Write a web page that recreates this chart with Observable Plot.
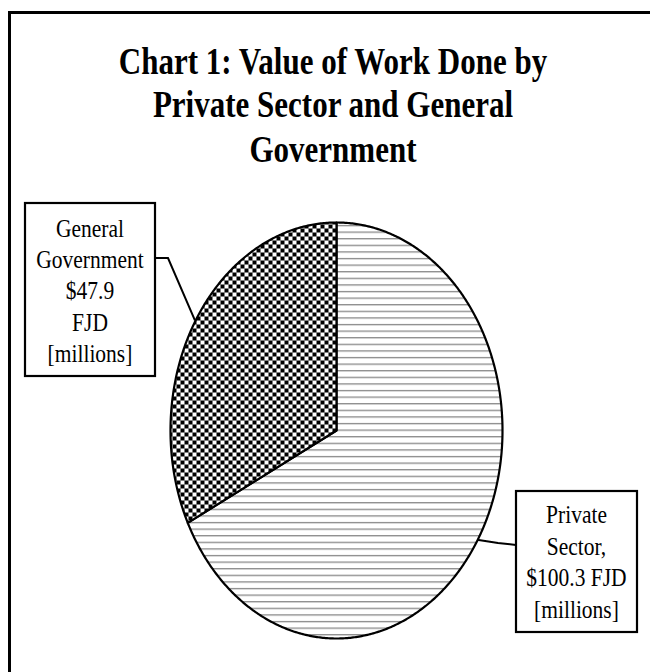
<!DOCTYPE html>
<html><head><meta charset="utf-8">
<script src="https://cdn.jsdelivr.net/npm/d3@7"></script>
<script src="https://cdn.jsdelivr.net/npm/@observablehq/plot@0.6"></script>
<style>
html,body{margin:0;padding:0;background:#fff;overflow:hidden}
#wrap{position:relative;width:650px;height:672px;overflow:hidden;background:#fff}
#chart{position:absolute;left:0;top:0}
#frame{position:absolute;left:8px;top:11px;width:700px;height:700px;border-top:3px solid #000;border-left:3px solid #000;pointer-events:none}
#title{position:absolute;left:8px;top:39px;width:650px;text-align:center;font-family:"Liberation Serif",serif;font-weight:bold;font-size:31px;line-height:35.4px;transform:scaleY(1.24);transform-origin:top;color:#000}
</style></head><body>
<div id="wrap"><div id="chart"></div><div id="frame"></div><div id="title">Chart 1: Value of Work Done by<br>Private Sector and General<br>Government</div></div>
<script>
// ---- data ----
const categories = ["Private Sector", "General Government"];
const values = [100.3, 47.9];
const labelLines = [
  ["Private", "Sector,", "$100.3 FJD", "[millions]"],
  ["General", "Government", "$47.9", "FJD", "[millions]"]
];
const patterns = ["url(#hlines)", "url(#checker)"];

// ---- layout (pixels) ----
const labelLayout = [
  {box: [516, 491, 121, 141], path: [[498, 543], [516, 545]], base: 523, step: 31.7},
  {box: [25, 203, 130, 173], path: [[168, 258], [155, 258]], base: 237, step: 31.2}
];

// ---- slice outlines in unit-circle space from d3.pie ----
const arcs = d3.pie().sort(null)(values);
const pts = [];
arcs.forEach((a, i) => {
  pts.push({cat: categories[i], x: 0, y: 0});
  const n = Math.max(2, Math.ceil((a.endAngle - a.startAngle) / (Math.PI / 360)));
  for (let k = 0; k <= n; k++) {
    const t = a.startAngle + (a.endAngle - a.startAngle) * k / n;
    pts.push({cat: categories[i], x: Math.sin(t), y: Math.cos(t)});
  }
});

const plot = Plot.plot({
  width: 650, height: 672,
  marginLeft: 170, marginRight: 148, marginTop: 222, marginBottom: 34,
  x: {domain: [-1, 1], axis: null},
  y: {domain: [-1, 1], axis: null},
  color: {domain: categories, range: patterns},
  style: {background: "transparent"},
  marks: [
    Plot.line(pts, {x: "x", y: "y", z: "cat", fill: "cat", stroke: "#000", strokeWidth: 2.2, curve: "linear-closed"})
  ]
});
document.getElementById("chart").appendChild(plot);

const svg = d3.select(plot);
const defs = svg.insert("defs", ":first-child");
const hp = defs.append("pattern").attr("id", "hlines").attr("patternUnits", "userSpaceOnUse").attr("width", 10).attr("height", 6.6);
hp.append("rect").attr("width", 10).attr("height", 6.6).attr("fill", "#fff");
hp.append("rect").attr("y", 0).attr("width", 10).attr("height", 1.3).attr("fill", "#888");
const cp = defs.append("pattern").attr("id", "checker").attr("patternUnits", "userSpaceOnUse").attr("width", 8).attr("height", 8);
cp.append("rect").attr("width", 8).attr("height", 8).attr("fill", "#fff");
cp.append("rect").attr("x", 0).attr("y", 0).attr("width", 4).attr("height", 4).attr("fill", "#000");
cp.append("rect").attr("x", 4).attr("y", 4).attr("width", 4).attr("height", 4).attr("fill", "#000");

// ---- data labels with leader lines anchored at slice mid-angles ----
const xs = plot.scale("x"), ys = plot.scale("y");
const g = svg.append("g");
arcs.forEach((a, i) => {
  const m = (a.startAngle + a.endAngle) / 2;
  const ax = xs.apply(Math.sin(m)), ay = ys.apply(Math.cos(m));
  const L = labelLayout[i];
  const line = [[ax, ay], ...L.path];
  g.append("path").attr("d", d3.line()(line)).attr("fill", "none").attr("stroke", "#000").attr("stroke-width", 2);
  const [bx, by, bw, bh] = L.box;
  g.append("rect").attr("x", bx).attr("y", by).attr("width", bw).attr("height", bh)
    .attr("fill", "#fff").attr("stroke", "#000").attr("stroke-width", 2.2);
  labelLines[i].forEach((t, k) => {
    g.append("text")
      .attr("transform", `translate(${bx + bw / 2},${L.base + k * L.step}) scale(1,1.15)`)
      .attr("text-anchor", "middle")
      .attr("font-family", "Liberation Serif, serif")
      .attr("font-size", 21.5)
      .attr("fill", "#000")
      .text(t);
  });
});
</script>
</body></html>
